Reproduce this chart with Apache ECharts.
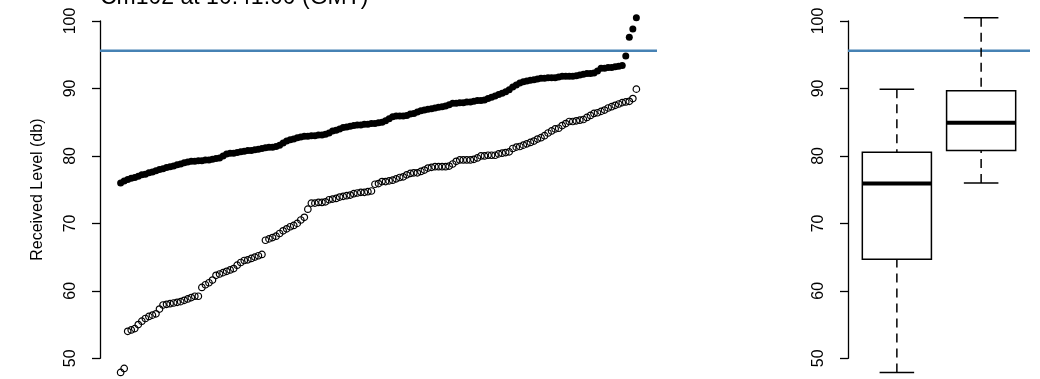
<!DOCTYPE html>
<html>
<head>
<meta charset="utf-8">
<script src="https://cdn.jsdelivr.net/npm/echarts@6/dist/echarts.min.js"></script>
<style>
html,body{margin:0;padding:0;background:#fff;}
#chart{width:1040px;height:379px;}
</style>
</head>
<body>
<div id="chart"></div>
<script>
// ---- data ----
const titleText = "Cm102 at 10:41:00 (GMT)";
const yAxisTitle = "Received Level (db)";
const yTicks = [50, 60, 70, 80, 90, 100];
const threshold = 95.6;

// sorted received levels, open circles (index 1..n)
const openLevels = [
  47.9, 48.5, 54.0, 54.2, 54.4, 55.0, 55.5, 55.9, 56.2, 56.4,
  56.6, 57.3, 57.9, 58.0, 58.1, 58.2, 58.3, 58.4, 58.6, 58.8,
  59.0, 59.2, 59.2, 60.5, 60.9, 61.2, 61.6, 62.3, 62.5, 62.7,
  62.9, 63.1, 63.3, 63.8, 64.2, 64.5, 64.6, 64.8, 65.0, 65.2,
  65.4, 67.5, 67.7, 67.9, 68.1, 68.5, 68.9, 69.2, 69.5, 69.7,
  70.0, 70.5, 70.9, 72.1, 73.0, 73.0, 73.1, 73.1, 73.2, 73.5,
  73.6, 73.7, 73.9, 74.0, 74.1, 74.2, 74.4, 74.5, 74.6, 74.6,
  74.7, 74.8, 75.8, 75.9, 76.2, 76.2, 76.3, 76.4, 76.6, 76.8,
  76.9, 77.2, 77.4, 77.5, 77.5, 77.7, 77.9, 78.2, 78.3, 78.4,
  78.4, 78.4, 78.4, 78.5, 78.8, 79.2, 79.4, 79.4, 79.4, 79.4,
  79.5, 79.7, 80.0, 80.0, 80.1, 80.1, 80.1, 80.3, 80.4, 80.5,
  80.6, 81.1, 81.3, 81.4, 81.6, 81.8, 82.0, 82.2, 82.5, 82.7,
  83.0, 83.4, 83.7, 84.0, 84.1, 84.5, 84.8, 85.1, 85.1, 85.2,
  85.3, 85.4, 85.7, 86.0, 86.3, 86.4, 86.6, 86.8, 87.1, 87.3,
  87.5, 87.7, 87.9, 88.0, 88.1, 88.5, 89.9
];

// sorted received levels, filled circles (index 1..n)
const filledLevels = [
  76.0, 76.3, 76.5, 76.7, 76.8, 77.0, 77.2, 77.3, 77.5, 77.6,
  77.8, 78.0, 78.1, 78.3, 78.4, 78.5, 78.7, 78.8, 79.0, 79.1,
  79.2, 79.2, 79.3, 79.3, 79.4, 79.4, 79.5, 79.6, 79.7, 80.0,
  80.3, 80.4, 80.4, 80.5, 80.6, 80.7, 80.8, 80.8, 80.9, 81.0,
  81.1, 81.2, 81.3, 81.3, 81.4, 81.6, 81.9, 82.2, 82.4, 82.5,
  82.7, 82.8, 82.9, 82.9, 83.0, 83.0, 83.1, 83.1, 83.2, 83.4,
  83.7, 83.8, 84.0, 84.2, 84.3, 84.4, 84.5, 84.6, 84.6, 84.7,
  84.7, 84.8, 84.8, 84.9, 85.0, 85.2, 85.5, 85.8, 85.9, 85.9,
  85.9, 86.0, 86.2, 86.3, 86.5, 86.7, 86.8, 86.9, 87.0, 87.1,
  87.2, 87.3, 87.4, 87.6, 87.8, 87.8, 87.9, 87.9, 88.0, 88.0,
  88.1, 88.2, 88.2, 88.3, 88.5, 88.7, 88.9, 89.1, 89.3, 89.5,
  89.8, 90.2, 90.5, 90.8, 91.0, 91.1, 91.2, 91.3, 91.4, 91.5,
  91.5, 91.6, 91.6, 91.6, 91.7, 91.8, 91.8, 91.8, 91.8, 91.9,
  92.0, 92.1, 92.2, 92.2, 92.3, 92.6, 93.0, 93.0, 93.1, 93.1,
  93.2, 93.3, 93.4, 94.8, 97.6, 98.8, 100.5
];

// ---- helpers (R-style boxplot statistics) ----
function boxStats(arr) {
  const x = arr.slice().sort((a, b) => a - b);
  const n = x.length;
  const n4 = Math.floor((n + 3) / 2) / 2;
  const pos = [1, n4, (n + 1) / 2, n + 1 - n4, n];
  const f = pos.map(p => 0.5 * (x[Math.floor(p) - 1] + x[Math.ceil(p) - 1]));
  const iqr = f[3] - f[1];
  const lo = x.find(v => v >= f[1] - 1.5 * iqr);
  const hi = x.slice().reverse().find(v => v <= f[3] + 1.5 * iqr);
  return [lo, f[1], f[2], f[3], hi];
}

const n = openLevels.length;
const xPad = 0.04 * (n - 1);
const openData = openLevels.map((v, i) => [i + 1, v]);
const filledData = filledLevels.map((v, i) => [i + 1, v]);
const boxData = [
  [1].concat(boxStats(openLevels)),
  [2].concat(boxStats(filledLevels))
];

const FONT = "Liberation Sans, Arial, sans-serif";
const BOX_W = 0.82;

function yAxisCfg(gridIndex, withName) {
  const cfg = {
    type: 'value', gridIndex: gridIndex,
    min: yTicks[0], max: yTicks[yTicks.length - 1], interval: yTicks[1] - yTicks[0],
    splitLine: { show: false },
    axisLine: { show: true, onZero: false, lineStyle: { color: '#000', width: 1.3 } },
    axisTick: { show: true, length: 8, lineStyle: { color: '#000', width: 1.3 } },
    axisLabel: { rotate: 90, margin: 21, fontSize: 16, color: '#000', fontFamily: FONT }
  };
  if (withName) {
    cfg.name = yAxisTitle;
    cfg.nameLocation = 'middle';
    cfg.nameRotate = 90;
    cfg.nameGap = 54;
    cfg.nameTextStyle = { fontSize: 16, color: '#000', fontFamily: FONT };
  }
  return cfg;
}

const chart = echarts.init(document.getElementById('chart'), null, { renderer: 'canvas' });
chart.setOption({
  animation: false,
  backgroundColor: '#fff',
  title: {
    text: titleText, left: 100, top: -14, padding: 0,
    textStyle: { fontSize: 23, fontWeight: 'normal', color: '#000', fontFamily: FONT }
  },
  grid: [
    { left: 100, right: 383, top: 21, bottom: 20.7 },
    { left: 848, right: 10, top: 21, bottom: 20.7 }
  ],
  xAxis: [
    { type: 'value', gridIndex: 0, min: 1 - xPad, max: n + xPad, show: false },
    { type: 'value', gridIndex: 1, min: 0.42, max: 2.58, show: false }
  ],
  yAxis: [yAxisCfg(0, true), yAxisCfg(1, false)],
  series: [
    {
      type: 'line', xAxisIndex: 0, yAxisIndex: 0,
      data: [[1 - xPad, threshold], [n + xPad, threshold]],
      showSymbol: false, symbol: 'none', silent: true,
      lineStyle: { color: '#4682B4', width: 2.6 }, z: 1
    },
    {
      type: 'line', xAxisIndex: 1, yAxisIndex: 1,
      data: [[0.42, threshold], [2.58, threshold]],
      showSymbol: false, symbol: 'none', silent: true,
      lineStyle: { color: '#4682B4', width: 2.6 }, z: 1
    },
    {
      type: 'scatter', xAxisIndex: 0, yAxisIndex: 0,
      data: openData, clip: false, symbol: 'circle', symbolSize: 6.5,
      itemStyle: { color: 'rgba(0,0,0,0)', borderColor: '#000', borderWidth: 1.2, opacity: 1 }, z: 3
    },
    {
      type: 'scatter', xAxisIndex: 0, yAxisIndex: 0,
      data: filledData, clip: false, symbol: 'circle', symbolSize: 7,
      itemStyle: { color: '#000', opacity: 1 }, z: 3
    },
    {
      type: 'custom', xAxisIndex: 1, yAxisIndex: 1,
      data: boxData, clip: false, z: 3,
      renderItem: function (params, api) {
        const xv = api.value(0);
        const s = [1, 2, 3, 4, 5].map(k => api.value(k));
        const cx = api.coord([xv, s[2]])[0];
        const y = s.map(v => api.coord([xv, v])[1]);
        const hb = api.size([BOX_W, 0])[0] / 2;
        const hc = hb / 2;
        const st = { stroke: '#000', lineWidth: 1.5, fill: null };
        const dash = { stroke: '#000', lineWidth: 1.5, lineDash: [9, 6] };
        return {
          type: 'group',
          children: [
            { type: 'line', shape: { x1: cx, y1: y[4], x2: cx, y2: y[3] }, style: dash },
            { type: 'line', shape: { x1: cx, y1: y[0], x2: cx, y2: y[1] }, style: dash },
            { type: 'line', shape: { x1: cx - hc, y1: y[4], x2: cx + hc, y2: y[4] }, style: st },
            { type: 'line', shape: { x1: cx - hc, y1: y[0], x2: cx + hc, y2: y[0] }, style: st },
            { type: 'rect', shape: { x: cx - hb, y: y[3], width: 2 * hb, height: y[1] - y[3] },
              style: { stroke: '#000', lineWidth: 1.5, fill: 'rgba(0,0,0,0)' } },
            { type: 'line', shape: { x1: cx - hb, y1: y[2], x2: cx + hb, y2: y[2] },
              style: { stroke: '#000', lineWidth: 4 } }
          ]
        };
      }
    }
  ]
});
</script>
</body>
</html>
